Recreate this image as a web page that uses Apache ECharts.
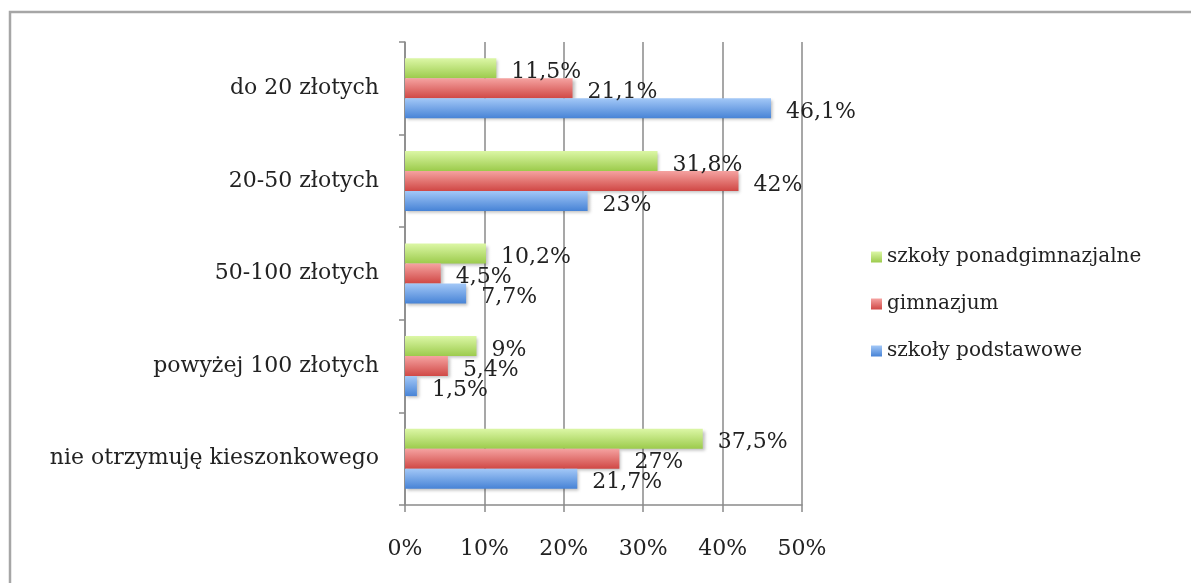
<!DOCTYPE html>
<html>
<head>
<meta charset="utf-8">
<script src="https://cdn.jsdelivr.net/npm/echarts@6/dist/echarts.min.js"></script>
<style>
  html, body { margin: 0; padding: 0; background: #fff; }
  #chart { width: 1191px; height: 583px; }
</style>
</head>
<body>
<div id="chart"></div>
<script>
var categories = ['do 20 złotych', '20-50 złotych', '50-100 złotych', 'powyżej 100 złotych', 'nie otrzymuję kieszonkowego']
var seriesNames = ['szkoły ponadgimnazjalne', 'gimnazjum', 'szkoły podstawowe']
var ponadgimnazjalne = [11.5, 31.8, 10.2, 9, 37.5]
var gimnazjum = [21.1, 42, 4.5, 5.4, 27]
var podstawowe = [46.1, 23, 7.7, 1.5, 21.7]
var xTicks = [0, 10, 20, 30, 40, 50]

var font = 'DejaVu Serif'
var gridColor = '#8a8a8a'

function grad(top, bottom) {
  return new echarts.graphic.LinearGradient(0, 0, 0, 1, [
    { offset: 0, color: top },
    { offset: 1, color: bottom }
  ])
}

function makeSeries(name, data, top, bottom) {
  return {
    name: name,
    type: 'bar',
    data: data,
    barWidth: 20,
    barGap: '0%',
    itemStyle: {
      color: grad(top, bottom),
      shadowColor: 'rgba(0,0,0,0.25)',
      shadowBlur: 3,
      shadowOffsetX: 2,
      shadowOffsetY: 2
    },
    label: {
      show: true,
      position: 'right',
      distance: 15,
      offset: [0, 4],
      color: '#222',
      fontFamily: font,
      fontSize: 22,
      formatter: function(p) {
        return String(p.value).replace('.', ',') + '%'
      }
    }
  }
}

var chart = echarts.init(document.getElementById('chart'))
var option = {
  backgroundColor: '#fff',
  animation: false,
  textStyle: { fontFamily: font },
  graphic: [{
    type: 'rect',
    shape: { x: 10, y: 12, width: 1300, height: 700 },
    style: { fill: 'none', stroke: '#a6a6a6', lineWidth: 2.5 },
    silent: true
  }],
  grid: {
    left: 405,
    top: 42,
    width: 397,
    height: 463,
    containLabel: false
  },
  legend: {
    orient: 'vertical',
    left: 866,
    top: 242,
    icon: 'rect',
    itemWidth: 11,
    itemHeight: 11,
    itemGap: 27,
    data: seriesNames,
    textStyle: {
      color: '#222',
      fontFamily: font,
      fontSize: 20
    }
  },
  xAxis: {
    type: 'value',
    min: xTicks[0],
    max: xTicks[xTicks.length - 1],
    interval: 10,
    axisLine: { show: true, lineStyle: { color: gridColor, width: 1.5 } },
    axisTick: { show: true, length: 7, lineStyle: { color: gridColor, width: 1.5 } },
    splitLine: { show: true, lineStyle: { color: gridColor, width: 1.5 } },
    axisLabel: {
      margin: 33,
      color: '#222',
      fontFamily: font,
      fontSize: 22,
      formatter: '{value}%'
    }
  },
  yAxis: {
    type: 'category',
    inverse: true,
    data: categories,
    axisLine: { show: true, lineStyle: { color: gridColor, width: 1.5 } },
    axisTick: { show: true, length: 6, lineStyle: { color: gridColor, width: 1.5 } },
    axisLabel: {
      margin: 26,
      color: '#222',
      fontFamily: font,
      fontSize: 22
    }
  },
  series: [
    makeSeries(seriesNames[0], ponadgimnazjalne, '#dcf7a6', '#9ccb4c'),
    makeSeries(seriesNames[1], gimnazjum, '#f5a3a1', '#d04845'),
    makeSeries(seriesNames[2], podstawowe, '#a3c8f7', '#4783d6')
  ]
}
chart.setOption(option)
</script>
</body>
</html>
